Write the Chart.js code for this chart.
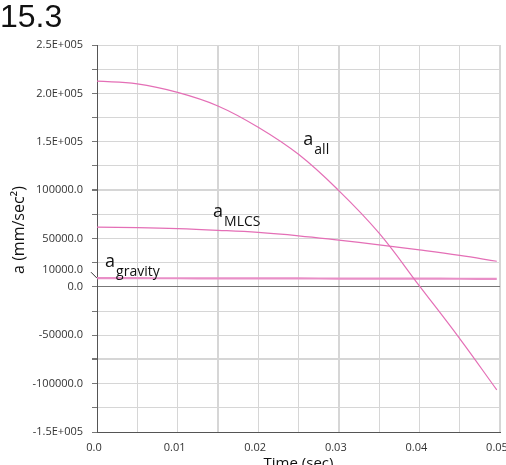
<!DOCTYPE html>
<html>
<head>
<meta charset="utf-8">
<script src="https://cdn.jsdelivr.net/npm/chart.js@4/dist/chart.umd.min.js"></script>
<style>
  body { margin: 0; background: #fff; }
  canvas { display: block; }
</style>
</head>
<body>
<canvas id="accelChart" width="506" height="465"></canvas>
<script>
// time samples (sec)
const times = [0, 0.005, 0.01, 0.015, 0.02, 0.025, 0.03, 0.035, 0.04, 0.045, 0.0496];
// acceleration series (mm/sec^2)
const aAll = [212600, 209800, 201000, 187000, 165000, 137000, 99500, 55500, 1000, -53500, -106500];
const aMLCS = [61700, 61200, 60200, 58500, 56300, 52800, 48300, 43500, 38200, 32500, 26500];
const aGravity = [9000, 8950, 8900, 8850, 8800, 8700, 8600, 8550, 8450, 8400, 8300];

// tick labels
const yTickValues = [250000, 200000, 150000, 100000, 50000, 0, -50000, -100000, -150000];
const yTickLabels = ["2.5E+005", "2.0E+005", "1.5E+005", "100000.0", "50000.0", "0.0", "-50000.0", "-100000.0", "-1.5E+005"];
const xTickValues = [0, 0.01, 0.02, 0.03, 0.04, 0.05];
const xTickLabels = ["0.0", "0.01", "0.02", "0.03", "0.04", "0.05"];

// curve labels: [main, subscript, time, value]
const curveLabels = [
    ["a", "all", 0.0256, 147000],
    ["a", "MLCS", 0.0144, 72500],
    ["a", "gravity", 0.001, 20500],
];

const pink = "#e46fb6";
const near = (a, b) => Math.abs(a - b) < 1e-7;
const nearBig = (a, b) => Math.abs(a - b) < 1;

function toPoints(ys) {
    return times.map((t, i) => ({ x: t, y: ys[i] }));
}

const labelsPlugin = {
    id: "curveLabels",
    afterDraw(chart) {
        const ctx = chart.ctx;
        const xs = chart.scales.x;
        const ys = chart.scales.y;
        ctx.save();
        ctx.fillStyle = "#111";
        ctx.textBaseline = "alphabetic";
        ctx.textAlign = "left";
        curveLabels.forEach(([main, sub, t, v]) => {
            const px = xs.getPixelForValue(t);
            const py = ys.getPixelForValue(v);
            ctx.font = "18px 'Open Sans'";
            ctx.fillText(main, px, py);
            const w = ctx.measureText(main).width;
            ctx.font = "14px 'Open Sans'";
            ctx.fillText(sub, px + w + 1, py + 9);
        });

        // odd 10000.0 marker on the y axis
        const y10k = ys.getPixelForValue(10000);
        ctx.font = "11px 'Open Sans'";
        ctx.fillStyle = "#333";
        ctx.textAlign = "right";
        ctx.textBaseline = "middle";
        ctx.fillText("10000.0", xs.left - 14, y10k - 7);
        ctx.strokeStyle = "#333";
        ctx.lineWidth = 1;
        ctx.beginPath();
        ctx.moveTo(xs.left - 6, y10k - 5);
        ctx.lineTo(xs.left, y10k + 1);
        ctx.stroke();

        // y axis title
        ctx.save();
        ctx.translate(19, 230);
        ctx.rotate(-Math.PI / 2);
        ctx.font = "16px 'Open Sans'";
        ctx.fillStyle = "#111";
        ctx.textAlign = "center";
        ctx.textBaseline = "middle";
        ctx.fillText("a (mm/sec\u00b2)", 0, 0);
        ctx.restore();
        ctx.restore();
    }
};

const chart = new Chart(document.getElementById("accelChart"), {
    type: "line",
    data: {
        datasets: [
            { label: "a all", data: toPoints(aAll), borderColor: pink, borderWidth: 1.2 },
            { label: "a MLCS", data: toPoints(aMLCS), borderColor: pink, borderWidth: 1.2 },
            { label: "a gravity", data: toPoints(aGravity), borderColor: "#e98fc7", borderWidth: 2.2 },
        ],
    },
    options: {
        responsive: false,
        animation: false,
        events: [],
        elements: {
            point: { radius: 0 },
            line: { tension: 0.4, fill: false },
        },
        layout: { padding: { left: 0, right: 6, top: 0, bottom: 0 } },
        plugins: {
            legend: { display: false },
            tooltip: { enabled: false },
            title: {
                display: true,
                text: "15.3",
                align: "start",
                color: "#111",
                font: { family: "'Liberation Sans'", size: 32, weight: "normal", lineHeight: 1 },
                padding: { top: 2, bottom: 11 },
            },
        },
        scales: {
            x: {
                type: "linear",
                min: 0,
                max: 0.05,
                ticks: {
                    stepSize: 0.005,
                    autoSkip: false,
                    maxRotation: 0,
                    padding: 9,
                    labelOffset: -3,
                    color: "#333",
                    font: { family: "'Open Sans'", size: 11 },
                    callback: (v) => {
                        const i = xTickValues.findIndex((t) => near(t, v));
                        return i >= 0 ? xTickLabels[i] : "";
                    },
                },
                grid: {
                    drawTicks: false,
                    color: "#d6d6d6",
                    lineWidth: (c) => {
                        const v = c.tick ? c.tick.value : null;
                        return v !== null && (near(v, 0.015) || near(v, 0.03) || near(v, 0.05)) ? 2 : 1;
                    },
                },
                border: { color: "#555", width: 1 },
                title: {
                    display: true,
                    text: "Time (sec)",
                    color: "#111",
                    font: { family: "'Open Sans'", size: 15 },
                    padding: { top: 0, bottom: -8 },
                },
                afterFit: (scale) => {
                    scale.height = 33;
                    scale.paddingLeft = 0;
                    scale.paddingRight = 0;
                },
            },
            y: {
                min: -150000,
                max: 250000,
                ticks: {
                    stepSize: 25000,
                    autoSkip: false,
                    padding: 9,
                    color: "#333",
                    font: { family: "'Open Sans'", size: 11 },
                    callback: (v) => {
                        const i = yTickValues.findIndex((t) => nearBig(t, v));
                        return i >= 0 ? yTickLabels[i] : "";
                    },
                },
                grid: {
                    tickLength: 5,
                    tickColor: "#777",
                    color: (c) => (c.tick && nearBig(c.tick.value, 0) ? "#777" : "#d6d6d6"),
                    lineWidth: (c) => {
                        const v = c.tick ? c.tick.value : null;
                        return v !== null && (nearBig(v, 100000) || nearBig(v, -75000)) ? 2 : 1;
                    },
                },
                border: { color: "#555", width: 1 },
                afterFit: (scale) => {
                    scale.width = 97;
                    scale.paddingTop = 0;
                    scale.paddingBottom = 0;
                },
            },
        },
    },
    plugins: [labelsPlugin],
});
</script>
</body>
</html>
